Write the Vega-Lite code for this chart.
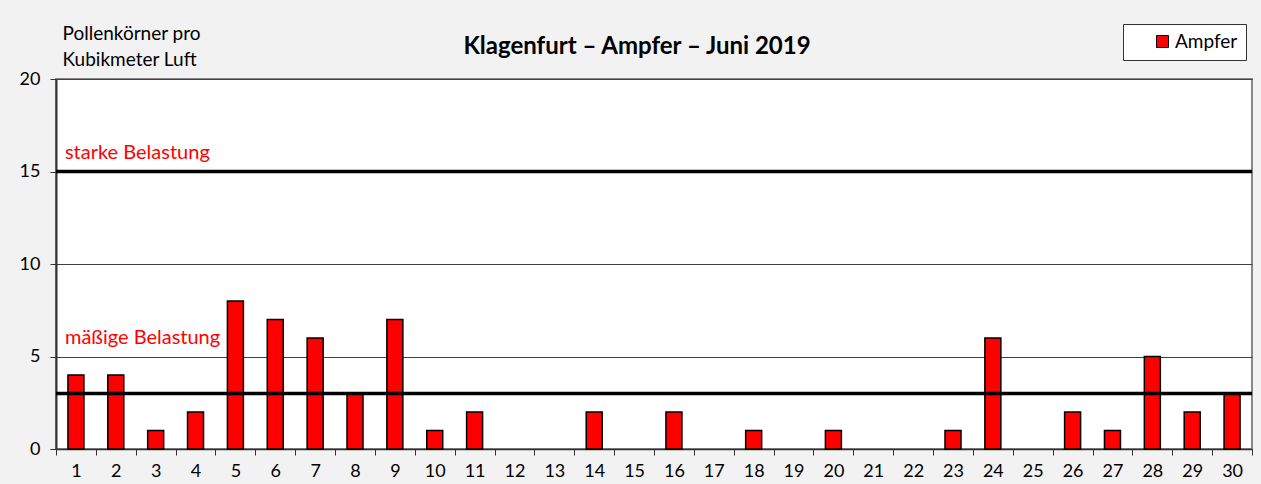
{
  "$schema": "https://vega.github.io/schema/vega-lite/v6.json",
  "autosize": "none",
  "width": 1196,
  "height": 370,
  "padding": {"left": 56, "top": 79, "right": 9, "bottom": 35},
  "background": "#f2f2f2",
  "config": {
    "font": "Lato",
    "view": {"fill": "white", "stroke": "#888888", "strokeWidth": 2},
    "axis": {"labelFont": "Lato", "labelFontSize": 18, "labelColor": "black", "domainColor": "#333333", "tickColor": "#333333"}
  },
  "title": {
    "text": "Klagenfurt – Ampfer – Juni 2019",
    "font": "Lato", "fontSize": 24, "fontWeight": "bold", "color": "black",
    "anchor": "middle", "frame": "group", "offset": -35, "dx": -17
  },
  "datasets": {
    "pollen": [
      {"Tag": 1, "Wert": 4, "Sorte": "Ampfer"},
      {"Tag": 2, "Wert": 4, "Sorte": "Ampfer"},
      {"Tag": 3, "Wert": 1, "Sorte": "Ampfer"},
      {"Tag": 4, "Wert": 2, "Sorte": "Ampfer"},
      {"Tag": 5, "Wert": 8, "Sorte": "Ampfer"},
      {"Tag": 6, "Wert": 7, "Sorte": "Ampfer"},
      {"Tag": 7, "Wert": 6, "Sorte": "Ampfer"},
      {"Tag": 8, "Wert": 3, "Sorte": "Ampfer"},
      {"Tag": 9, "Wert": 7, "Sorte": "Ampfer"},
      {"Tag": 10, "Wert": 1, "Sorte": "Ampfer"},
      {"Tag": 11, "Wert": 2, "Sorte": "Ampfer"},
      {"Tag": 12, "Wert": 0, "Sorte": "Ampfer"},
      {"Tag": 13, "Wert": 0, "Sorte": "Ampfer"},
      {"Tag": 14, "Wert": 2, "Sorte": "Ampfer"},
      {"Tag": 15, "Wert": 0, "Sorte": "Ampfer"},
      {"Tag": 16, "Wert": 2, "Sorte": "Ampfer"},
      {"Tag": 17, "Wert": 0, "Sorte": "Ampfer"},
      {"Tag": 18, "Wert": 1, "Sorte": "Ampfer"},
      {"Tag": 19, "Wert": 0, "Sorte": "Ampfer"},
      {"Tag": 20, "Wert": 1, "Sorte": "Ampfer"},
      {"Tag": 21, "Wert": 0, "Sorte": "Ampfer"},
      {"Tag": 22, "Wert": 0, "Sorte": "Ampfer"},
      {"Tag": 23, "Wert": 1, "Sorte": "Ampfer"},
      {"Tag": 24, "Wert": 6, "Sorte": "Ampfer"},
      {"Tag": 25, "Wert": 0, "Sorte": "Ampfer"},
      {"Tag": 26, "Wert": 2, "Sorte": "Ampfer"},
      {"Tag": 27, "Wert": 1, "Sorte": "Ampfer"},
      {"Tag": 28, "Wert": 5, "Sorte": "Ampfer"},
      {"Tag": 29, "Wert": 2, "Sorte": "Ampfer"},
      {"Tag": 30, "Wert": 3, "Sorte": "Ampfer"}
    ],
    "schwellen": [
      {"Tag": 1, "Grenze": 3, "Text": "mäßige Belastung", "TextY": 6},
      {"Tag": 1, "Grenze": 15, "Text": "starke Belastung", "TextY": 16}
    ]
  },
  "layer": [
    {
      "data": {"name": "pollen"},
      "mark": {"type": "bar", "stroke": "black", "strokeWidth": 1.5, "width": 16},
      "encoding": {
        "x": {
          "field": "Tag", "type": "ordinal",
          "scale": {"paddingInner": 0, "paddingOuter": 0},
          "axis": {"title": null, "labelAngle": 0, "labelPadding": 7, "tickBand": "extent", "tickSize": 6, "domainWidth": 1.5}
        },
        "y": {
          "field": "Wert", "type": "quantitative",
          "scale": {"domain": [0, 20], "nice": false},
          "axis": {
            "values": [0, 5, 10, 15, 20],
            "grid": true, "gridColor": "#404040", "gridWidth": 1,
            "tickSize": 6, "labelPadding": 10, "domainWidth": 2,
            "title": ["Pollenkörner pro", "Kubikmeter Luft"],
            "titleAngle": 0, "titleAlign": "left", "titleBaseline": "alphabetic",
            "titleX": 6, "titleY": -40, "titleFont": "Lato", "titleFontSize": 19,
            "titleFontWeight": "normal", "titleColor": "black", "titleLineHeight": 26
          }
        },
        "strokeOpacity": {"condition": {"test": "datum.Wert == 0", "value": 0}, "value": 1},
        "color": {
          "field": "Sorte", "type": "nominal",
          "scale": {"range": ["#ff0000"]},
          "legend": {
            "title": null, "orient": "none", "legendX": 1067, "legendY": -55,
            "symbolType": "square", "symbolSize": 144, "symbolStrokeColor": "black", "symbolStrokeWidth": 1,
            "labelFontSize": 19, "labelFont": "Lato", "labelColor": "black",
            "strokeColor": "#333333", "fillColor": "white", "padding": 8,
            "symbolOffset": 22, "labelOffset": 3
          }
        }
      }
    },
    {
      "data": {"name": "schwellen"},
      "mark": {"type": "rule", "color": "black", "strokeWidth": 3.5},
      "encoding": {
        "y": {"field": "Grenze", "type": "quantitative"}
      }
    },
    {
      "data": {"name": "schwellen"},
      "mark": {"type": "text", "color": "#ff0000", "align": "left", "baseline": "middle", "dx": -11, "fontSize": 20, "font": "Lato"},
      "encoding": {
        "x": {"field": "Tag", "type": "ordinal"},
        "y": {"field": "TextY", "type": "quantitative"},
        "text": {"field": "Text"}
      }
    }
  ]
}
